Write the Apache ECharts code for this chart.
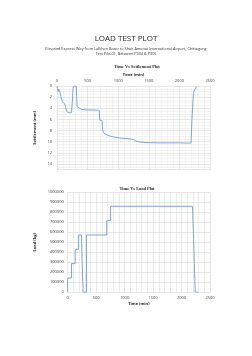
<!DOCTYPE html>
<html>
<head>
<meta charset="utf-8">
<script src="https://cdn.jsdelivr.net/npm/echarts@6/dist/echarts.min.js"></script>
<style>
  html, body { margin: 0; padding: 0; background: #fff; }
  #chart { width: 252px; height: 356px; }
</style>
</head>
<body>
<div id="chart"></div>
<script>
// settlement readings (time in min, settlement in mm)
const settleTime = [0, 8, 18, 30, 42, 50, 60, 80, 88, 115, 125, 150, 160, 200, 235, 250, 262, 270, 315, 325, 330, 345, 400, 500, 600, 690, 698, 735, 745, 760, 800, 870, 950, 1050, 1200, 1250, 1290, 1350, 1450, 1700, 2000, 2190, 2205, 2225, 2235, 2255, 2280];
const settleValue = [0, 0.5, 1.0, 0.6, 0.3, 1.2, 1.8, 1.8, 2.8, 3.0, 3.2, 3.3, 4.6, 4.8, 4.8, 3.0, 0.5, 0, 0, 3.0, 3.7, 4.0, 4.2, 4.3, 4.3, 4.35, 6.1, 6.2, 7.8, 8.4, 8.7, 9.0, 9.2, 9.35, 9.5, 9.6, 9.9, 10.05, 10.15, 10.2, 10.2, 10.25, 6.0, 2.0, 1.0, 0.6, 0.1];

// load readings (time in min, load in kg)
const loadTime = [0, 0, 66, 66, 132, 132, 187, 187, 241, 248, 255, 262, 271, 331, 331, 686, 686, 752, 752, 2193, 2225, 2240, 2295];
const loadValue = [0, 143000, 143000, 287000, 287000, 430000, 430000, 573000, 573000, 430000, 287000, 143000, 0, 0, 573000, 573000, 717000, 717000, 860000, 860000, 287000, 0, 0];

const settleTicks = [0, 2, 4, 6, 8, 10, 12, 14];
const timeTicks = [0, 500, 1000, 1500, 2000, 2500];

const lineColor = '#7ea6d4';
const gridColor = '#d6d6d6';
const minorColor = '#e6e6e6';
const labelFont = { fontFamily: 'Open Sans', fontSize: 4, color: '#444' };
const plain = (v) => String(v);

const chart = echarts.init(document.getElementById('chart'));

const zip = (xs, ys) => xs.map((x, i) => [x, ys[i]]);

const option = {
  backgroundColor: '#fff',
  animation: false,
  title: [
    {
      text: 'LOAD TEST PLOT',
      left: 'center',
      top: 30,
      textStyle: { fontFamily: 'Open Sans', fontSize: 8, fontWeight: 'normal', color: '#222' }
    },
    {
      text: 'Elevated Express Way from Lalkhan Bazar to Shah Amanat International Airport, Chittagong\nTest Pile-01, Between P304 & P305',
      left: 'center',
      top: 41,
      textStyle: { fontFamily: 'Open Sans', fontSize: 3.8, fontWeight: 'normal', color: '#333', lineHeight: 5.6, align: 'center' }
    },
    {
      text: 'Time Vs Settlement Plot',
      left: 132,
      textAlign: 'center',
      top: 60,
      textStyle: { fontFamily: 'Liberation Serif', fontSize: 4.4, fontWeight: 'bold', color: '#222' }
    },
    {
      text: 'Time Vs Load Plot',
      left: 132,
      textAlign: 'center',
      top: 182,
      textStyle: { fontFamily: 'Liberation Serif', fontSize: 4.4, fontWeight: 'bold', color: '#222' }
    }
  ],
  grid: [
    { left: 57, right: 42, top: 86, bottom: 186.4 },
    { left: 67.7, right: 42, top: 192.3, bottom: 63.7 }
  ],
  xAxis: [
    {
      gridIndex: 0,
      type: 'value',
      position: 'top',
      min: timeTicks[0],
      max: timeTicks[timeTicks.length - 1],
      interval: 500,
      name: 'Time (min)',
      nameLocation: 'middle',
      nameGap: 9,
      nameTextStyle: { fontFamily: 'Open Sans', fontSize: 4, fontWeight: 'bold', color: '#222' },
      axisLine: { show: false },
      axisTick: { show: false },
      axisLabel: { ...labelFont, margin: 3, formatter: plain },
      splitLine: { lineStyle: { color: gridColor, width: 0.6 } },
      minorTick: { show: false, splitNumber: 5 },
      minorSplitLine: { show: true, lineStyle: { color: minorColor, width: 0.5 } }
    },
    {
      gridIndex: 1,
      type: 'value',
      min: timeTicks[0],
      max: timeTicks[timeTicks.length - 1],
      interval: 500,
      name: 'Time (min)',
      nameLocation: 'middle',
      nameGap: 10,
      nameTextStyle: { fontFamily: 'Open Sans', fontSize: 4, fontWeight: 'bold', color: '#222' },
      axisLine: { show: false },
      axisTick: { show: false },
      axisLabel: { ...labelFont, margin: 4, formatter: plain },
      splitLine: { lineStyle: { color: gridColor, width: 0.6 } },
      minorTick: { show: false, splitNumber: 5 },
      minorSplitLine: { show: true, lineStyle: { color: gridColor, width: 0.5 } }
    }
  ],
  yAxis: [
    {
      gridIndex: 0,
      type: 'value',
      inverse: true,
      min: 0,
      max: 15,
      interval: 2,
      name: 'Settlement (mm)',
      nameLocation: 'middle',
      nameRotate: 90,
      nameGap: 14,
      nameTextStyle: { fontFamily: 'Open Sans', fontSize: 4, fontWeight: 'bold', color: '#222' },
      axisLine: { show: false },
      axisTick: { show: false },
      axisLabel: {
        ...labelFont,
        margin: 5,
        formatter: (v) => (settleTicks.indexOf(v) >= 0 ? String(v) : '')
      },
      splitLine: { lineStyle: { color: gridColor, width: 0.6 } },
      minorTick: { show: false, splitNumber: 4 },
      minorSplitLine: { show: true, lineStyle: { color: minorColor, width: 0.5 } }
    },
    {
      gridIndex: 1,
      type: 'value',
      min: 0,
      max: 1000000,
      interval: 100000,
      name: 'Load (kg)',
      nameLocation: 'middle',
      nameRotate: 90,
      nameGap: 22,
      nameTextStyle: { fontFamily: 'Open Sans', fontSize: 4, fontWeight: 'bold', color: '#222' },
      axisLine: { show: false },
      axisTick: { show: false },
      axisLabel: { ...labelFont, margin: 4, formatter: plain },
      splitLine: { lineStyle: { color: gridColor, width: 0.6 } }
    }
  ],
  series: [
    {
      type: 'line',
      xAxisIndex: 0,
      yAxisIndex: 0,
      data: zip(settleTime, settleValue),
      showSymbol: false,
      lineStyle: { color: lineColor, width: 1 }
    },
    {
      type: 'line',
      xAxisIndex: 1,
      yAxisIndex: 1,
      data: zip(loadTime, loadValue),
      showSymbol: false,
      lineStyle: { color: lineColor, width: 1 }
    }
  ]
};

chart.setOption(option);
</script>
</body>
</html>
